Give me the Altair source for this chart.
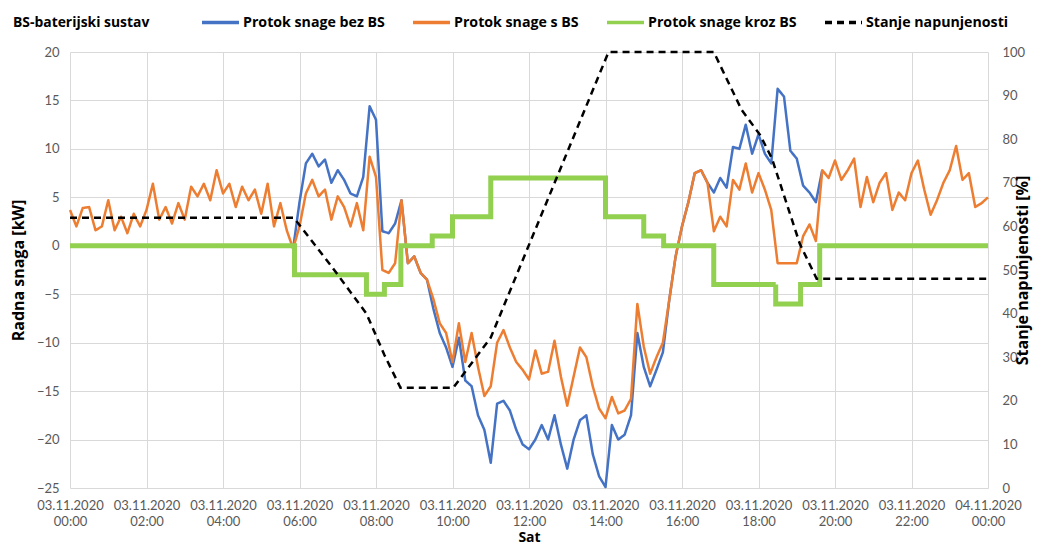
import altair as alt
import pandas as pd

FONT = "Lato"
LEG_FONT = "Open Sans"

# 10-minute samples, 00:00 .. 24:00 (hours)
TIMES_H = [i / 6 for i in range(145)]

# Protok snage s BS [kW] (orange), 10-min samples 00:00..24:00
ORANGE = [
    3.7, 2.0, 3.9, 4.0, 1.6, 2.0, 4.7, 1.6, 3.0, 1.3, 3.3, 2.0,          # 00:00-01:50
    3.7, 6.4, 2.7, 4.0, 2.3, 4.4, 2.7, 6.1, 5.1, 6.4, 4.7, 7.8,          # 02:00-03:50
    5.4, 6.4, 4.0, 6.1, 4.7, 5.8, 3.3, 6.4, 2.0, 4.4, 1.6, -0.3,         # 04:00-05:50
    2.0, 5.4, 6.8, 5.1, 5.8, 2.7, 5.1, 4.0, 2.0, 4.4, 1.6, 9.2,          # 06:00-07:50
    7.1, -2.5, -2.8, -1.8, 4.7, -1.8, -1.1, -2.8, -3.5, -5.5, -8.0, -9.0,  # 08:00-09:50
    -12.0, -8.0, -12.0, -9.0, -12.5, -15.5, -14.5, -10.0, -8.7, -10.5, -12.0, -12.8,  # 10:00-11:50
    -13.8, -10.8, -13.2, -13.0, -9.8, -13.5, -16.5, -13.5, -10.5, -11.5, -14.5, -16.8,  # 12:00-13:50
    -17.8, -15.6, -17.3, -17.0, -15.8, -6.0, -10.4, -13.2, -11.5, -10.0, -5.6, -1.1,  # 14:00-15:50
    2.0, 4.5, 7.5, 7.8, 6.5, 1.5, 3.0, 2.0, 6.8, 5.8, 8.5, 5.5,          # 16:00-17:50
    7.5, 5.8, 3.7, -1.8, -1.8, -1.8, -1.8, 1.0, 2.2, 0.5, 7.8, 7.0,      # 18:00-19:50
    8.8, 6.8, 7.8, 9.0, 4.0, 7.1, 4.5, 6.5, 7.5, 3.7, 5.5, 4.7,          # 20:00-21:50
    7.5, 8.8, 5.8, 3.2, 4.7, 6.5, 7.8, 10.3, 6.8, 7.5, 4.0, 4.4,         # 22:00-23:50
    5.0,                                                                 # 24:00
]

# Protok snage bez BS [kW] (blue), 10-min samples starting 05:50 (index 35)
BLUE_FROM = 35
BLUE = [
    -0.3, 4.5, 8.5, 9.5, 8.2, 8.9, 6.5, 7.8, 6.8, 5.4, 5.1, 7.1,          # 05:50-07:40
    14.4, 13.0, 1.5, 1.3, 2.3, 4.7, -1.8, -1.1, -2.8, -3.5, -6.5, -9.0,  # 07:50-09:40
    -10.5, -12.5, -9.5, -13.9, -14.5, -17.5, -19.0, -22.4, -16.3, -16.0, -17.0, -19.0,  # 09:50-11:40
    -20.5, -21.0, -20.0, -18.5, -20.0, -17.5, -20.5, -23.0, -20.0, -18.0, -17.5, -21.5,  # 11:50-13:40
    -23.8, -24.9, -18.5, -20.0, -19.5, -17.5, -9.0, -12.5, -14.5, -12.8, -11.0, -5.6,  # 13:50-15:40
    -1.1, 2.0, 4.5, 7.5, 7.8, 6.5, 5.5, 7.0, 6.0, 10.2, 10.0, 12.5,      # 15:50-17:40
    9.5, 11.5, 9.5, 8.5, 16.2, 15.4, 9.8, 9.0, 6.2, 5.5, 4.5, 7.8,       # 17:50-19:40
]

# Protok snage kroz BS [kW] (green, step changes)
GREEN_T = [0, 5.87, 7.75, 8.22, 8.65, 9.47, 10.0, 11.0, 14.0, 15.0, 15.52, 16.83, 18.45, 19.1, 19.6, 24]
GREEN_V = [0, -3, -5, -4, 0, 1, 3, 7, 3, 1, 0, -4, -6, -4, 0, 0]

# Stanje napunjenosti [%] (black dashed)
SOC_T = [0, 5.85, 6.84, 7.75, 8.22, 8.64, 10.02, 11.0, 14.08, 16.83, 17.56, 18.04, 18.35, 18.82, 19.08, 19.52, 24]
SOC_V = [62, 62, 50.8, 40, 30.5, 23, 23, 34.5, 100, 100, 86.7, 81, 75.6, 63, 56, 48, 48]

SERIES = ["Protok snage bez BS", "Protok snage s BS", "Protok snage kroz BS", "Stanje napunjenosti"]
COLORS = ["#4472C4", "#ED7D31", "#92D050", "#000000"]
DASHES = [[1, 0], [1, 0], [1, 0], [7, 5]]
LINE_W = 2.5
GREEN_W = 5

X_TICKS = list(range(0, 25, 2))
KW_TICKS = list(range(-25, 21, 5))
SOC_TICKS = list(range(0, 101, 10))
DAY1, DAY2 = "03.11.2020", "04.11.2020"


def frame(name, t, v):
    return pd.DataFrame({"t": list(t), "v": list(v), "series": name})


df_blue = frame(SERIES[0], TIMES_H[BLUE_FROM:BLUE_FROM + len(BLUE)], BLUE)
df_orange = frame(SERIES[1], TIMES_H, ORANGE)
df_green = frame(SERIES[2], GREEN_T, GREEN_V)
df_soc = frame(SERIES[3], SOC_T, SOC_V)

LEG = dict(
    orient="none", legendX=-57, legendY=-50, direction="horizontal", gridAlign="none",
    title="BS-baterijski sustav", titleOrient="left", titleBaseline="top",
    titleFont=LEG_FONT, titleFontSize=13.9, titleFontWeight="bold", titleColor="#000000", titlePadding=50,
    labelFont=LEG_FONT, labelFontSize=14.2, labelFontWeight="bold", labelColor="#000000", labelLimit=400,
    symbolType="stroke", symbolSize=1369, symbolStrokeWidth=3.5, labelOffset=2, columnPadding=21,
)


def style_enc():
    return dict(
        color=alt.Color("series:N", scale=alt.Scale(domain=SERIES, range=COLORS), legend=alt.Legend(**LEG)),
        strokeDash=alt.StrokeDash("series:N", scale=alt.Scale(domain=SERIES, range=DASHES), legend=alt.Legend(**LEG)),
    )


label_expr = (
    f"datum.value < 24 ? ['{DAY1}', (datum.value < 10 ? '0' : '') + datum.value + ':00']"
    f" : ['{DAY2}', '00:00']"
)

x_enc = alt.X(
    "t:Q",
    scale=alt.Scale(domain=[0, 24], nice=False, zero=False),
    axis=alt.Axis(values=X_TICKS, labelExpr=label_expr, title="Sat", grid=True,
                  labelOverlap=False, labelBound=False, labelFlush=False,
                  labelLineHeight=16, labelPadding=11, titlePadding=2, titleFontSize=14),
)
y_kw = alt.Y(
    "v:Q",
    scale=alt.Scale(domain=[-25, 20], nice=False, zero=False),
    axis=alt.Axis(values=KW_TICKS, orient="left", title="Radna snaga [kW]", grid=True,
                  labelPadding=11, titlePadding=10),
)
y_soc = alt.Y(
    "v:Q",
    scale=alt.Scale(domain=[0, 100], nice=False),
    axis=alt.Axis(values=SOC_TICKS, orient="right", title="Stanje napunjenosti [%]", grid=False,
                  labelPadding=14, titlePadding=6, titleAngle=270),
)

blue = alt.Chart(df_blue).mark_line(strokeJoin="round", strokeWidth=LINE_W).encode(x=x_enc, y=y_kw, **style_enc())
orange = alt.Chart(df_orange).mark_line(strokeJoin="round", strokeWidth=LINE_W).encode(x=x_enc, y=y_kw, **style_enc())
green = alt.Chart(df_green).mark_line(interpolate="step-after", strokeWidth=GREEN_W).encode(x=x_enc, y=y_kw, **style_enc())
left = alt.layer(blue, orange, green)

soc = alt.Chart(df_soc).mark_line(strokeWidth=LINE_W).encode(x=x_enc, y=y_soc, **style_enc())

chart = (
    alt.layer(left, soc)
    .resolve_scale(y="independent")
    .properties(
        width=918, height=436,
        padding={"left": 62, "top": 44, "right": 50, "bottom": 57},
        autosize=alt.AutoSizeParams(type="none"),
    )
    .configure_view(stroke=None)
    .configure_axis(
        domain=False, ticks=False, labelColor="#595959", labelFont=FONT, labelFontSize=13,
        titleFont=LEG_FONT, titleFontSize=16, titleFontWeight="bold", titleColor="#000000",
        gridColor="#D9D9D9", gridWidth=1,
    )
)

chart.save("out.html", embed_options={"renderer": "svg", "actions": False})
